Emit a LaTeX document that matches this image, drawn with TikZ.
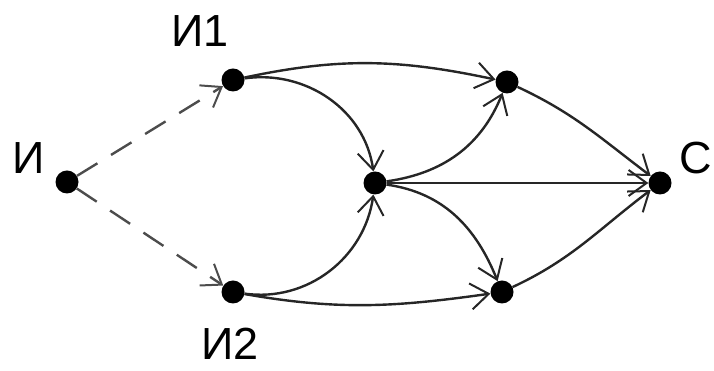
\documentclass[tikz,border=0pt]{standalone}
\usepackage{fontspec}
\setmainfont{Liberation Sans}
\usetikzlibrary{arrows.meta}
\begin{document}
\begin{tikzpicture}[x=1pt,y=1pt,
  vertex/.style={circle,fill=black,inner sep=0pt,minimum size=23pt},
  lbl/.style={font=\fontsize{45}{48}\selectfont,inner sep=0pt},
  arc/.style={line width=2.4pt,draw=black!85,
    -{Straight Barb[length=18pt,width=26pt,line width=2pt]}},
  weak/.style={arc,draw=black!70,dash pattern=on 24pt off 16pt}]
\useasboundingbox (0,0) rectangle (714,371);
% vertices
\node[vertex] (i)  at (67,189) {};
\node[vertex] (i1) at (233,291) {};
\node[vertex] (i2) at (233,79) {};
\node[vertex] (m)  at (375,188) {};
\node[vertex] (tr) at (507,289) {};
\node[vertex] (br) at (502,79) {};
\node[vertex] (c)  at (660,188) {};
% labels
\node[lbl] (li)  at (29,213) {И};
\node[lbl] (li1) at (200,340) {И1};
\node[lbl] (li2) at (230,27) {И2};
\node[lbl] (lc)  at (696,213) {С};
% dashed inputs
\draw[weak] (i) -- (i1);
\draw[weak] (i) -- (i2);
% arcs
\draw[arc] (i1) to[out=12,in=168] (tr);
\draw[arc] (i1) to[out=8,in=98] (m);
\draw[arc] (i2) to[out=-8,in=-98] (m);
\draw[arc] (i2) to[out=-10,in=188] (br);
\draw[arc] (m) to[out=8,in=-112] (tr);
\draw[arc] (m) to[out=-8,in=112] (br);
\draw[arc] (m) -- (c);
\draw[arc] (tr) to[out=-25,in=143] (c);
\draw[arc] (br) to[out=25,in=-143] (c);
\end{tikzpicture}
\end{document}
